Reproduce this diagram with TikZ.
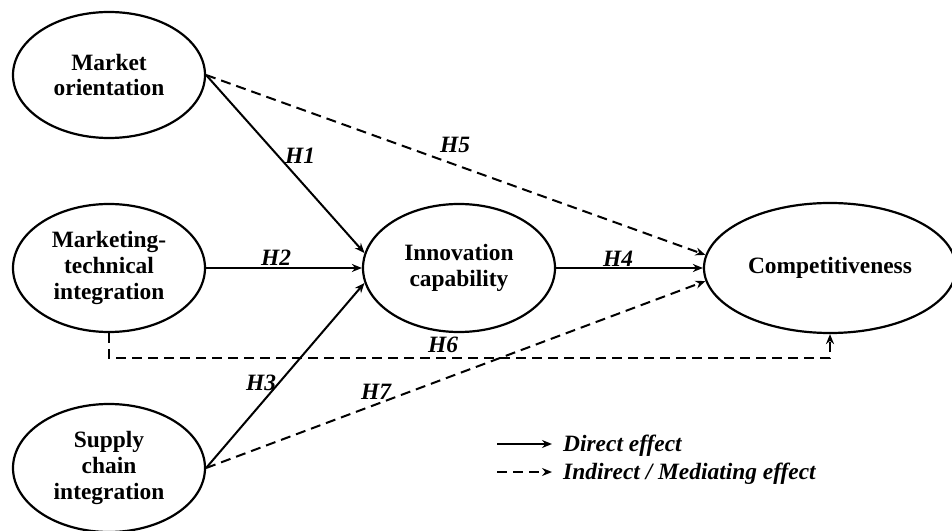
\documentclass[tikz,border=0pt]{standalone}
\usepackage{fontspec}
\setmainfont{Liberation Serif}
\usetikzlibrary{shapes.geometric,arrows.meta}
\tikzset{
  construct/.style={ellipse, draw, line width=2.2bp, inner sep=0pt, align=center,
    font=\fontsize{23.5}{26}\selectfont\bfseries},
  direct/.style={line width=2bp, -{Stealth[length=10bp,width=8bp]}},
  indirect/.style={direct, dash pattern=on 10bp off 6bp},
  lbl/.style={inner sep=0pt, font=\fontsize{23.5}{26}\selectfont\bfseries\itshape},
  legtext/.style={inner sep=0pt, anchor=base west, font=\fontsize{23.5}{26}\selectfont\bfseries\itshape}
}
\begin{document}
\begin{tikzpicture}[x=1bp,y=-1bp]
\useasboundingbox (0,0) rectangle (952,531);
% constructs
\node[construct, minimum width=192bp, minimum height=126bp] (mo) at (109,75) {Market\\orientation};
\node[construct, minimum width=192bp, minimum height=128bp] (mt) at (109,268) {Marketing-\\technical\\integration};
\node[construct, minimum width=192bp, minimum height=128bp] (sc) at (109,468) {Supply\\chain\\integration};
\node[construct, minimum width=192bp, minimum height=128bp] (ic) at (459,268) {Innovation\\capability};
\node[construct, minimum width=252bp, minimum height=130bp] (comp) at (830,268) {Competitiveness};
% direct effects
\draw[direct] (mo.east) -- (ic.171);
\draw[direct] (mt.east) -- (ic.west);
\draw[direct] (sc.east) -- (ic.189);
\draw[direct] (ic.east) -- (comp.west);
% indirect effects
\draw[indirect] (mo.east) -- (comp.174);
\draw[indirect] (sc.east) -- (comp.186);
\draw[indirect] (mt.south) -- ++(0,25) -| (comp.south);
% hypothesis labels
\node[lbl] (h1) at (300,156) {H1};
\node[lbl] (h2) at (276,258) {H2};
\node[lbl] (h3) at (261,383) {H3};
\node[lbl] (h4) at (618,259) {H4};
\node[lbl] (h5) at (455,145) {H5};
\node[lbl] (h6) at (443,345) {H6};
\node[lbl] (h7) at (376,392) {H7};
% legend
\coordinate (l1a) at (497,444);
\coordinate (l1b) at (552,444);
\coordinate (l2a) at (497,472);
\coordinate (l2b) at (552,472);
\draw[direct] (l1a) -- (l1b);
\draw[indirect] (l2a) -- (l2b);
\node[legtext] (t1) at (563,451) {Direct effect};
\node[legtext] (t2) at (563,479) {Indirect / Mediating effect};
\end{tikzpicture}
\end{document}
